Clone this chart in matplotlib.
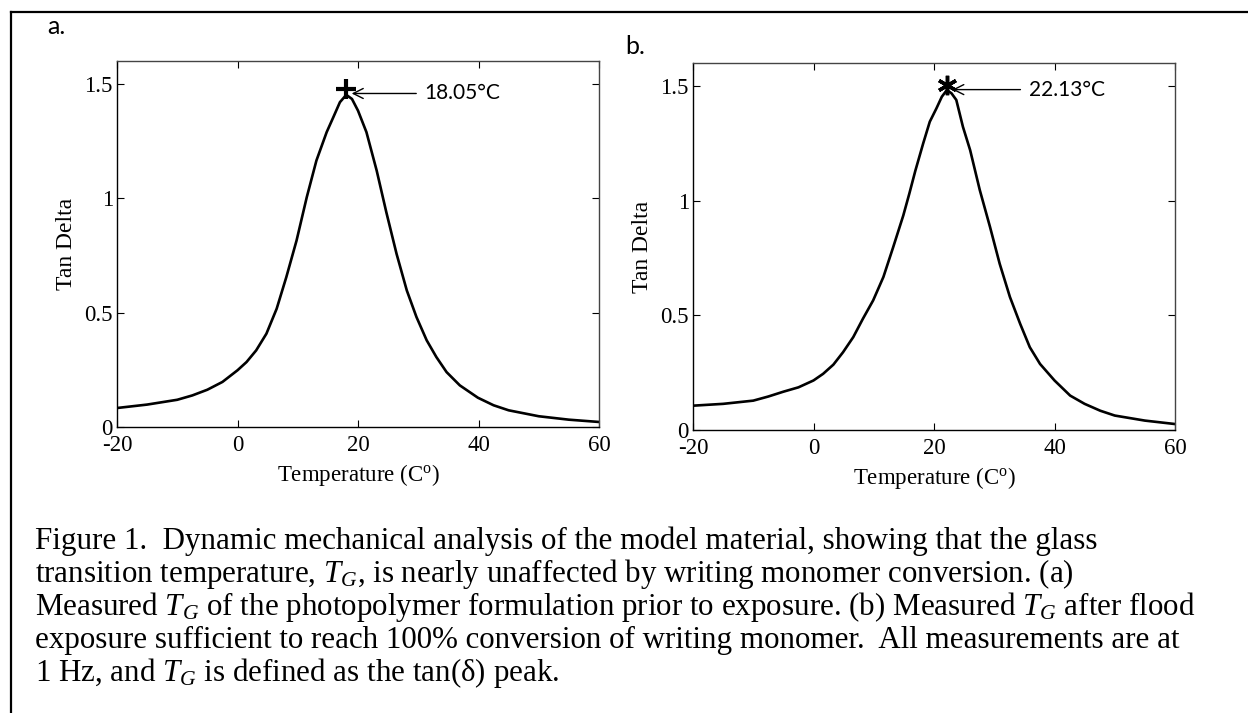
import matplotlib
matplotlib.use("Agg")
import matplotlib.pyplot as plt
from matplotlib.lines import Line2D

plt.rcParams['mathtext.fontset'] = 'custom'
plt.rcParams['mathtext.rm'] = 'Liberation Serif'
plt.rcParams['mathtext.it'] = 'Liberation Serif:italic'
plt.rcParams['axes.unicode_minus'] = False

# ---- data ----
temp_a = [-20, -15, -10, -7.5, -5, -2.5, 0, 1.5, 3.1, 4.8, 6.5, 8.1, 9.8, 11.5, 13.1,
          14.8, 15.9, 17.0, 18.05, 19.0, 20.0, 21.4, 23.1, 24.7, 26.4, 28.1, 29.7,
          31.4, 33.0, 34.7, 36.9, 39.9, 42.5, 45, 50, 55, 60]
tan_a = [0.083, 0.098, 0.119, 0.138, 0.163, 0.197, 0.248, 0.284, 0.335, 0.408, 0.517,
         0.655, 0.815, 1.005, 1.165, 1.289, 1.354, 1.42, 1.452, 1.434, 1.383, 1.289,
         1.121, 0.939, 0.757, 0.597, 0.481, 0.379, 0.306, 0.240, 0.182, 0.128, 0.095,
         0.073, 0.047, 0.032, 0.022]
peak_a = (18.05, 1.478)

temp_b = [-20, -15, -10, -7.5, -5, -2.5, 0, 1.6, 3.3, 4.9, 6.6, 8.2, 9.9, 11.6, 13.2,
          14.9, 15.9, 16.9, 18.2, 19.3, 20.4, 21.3, 22.13, 22.9, 23.7, 24.8, 26.0, 27.6,
          29.3, 30.9, 32.6, 34.3, 35.9, 37.6, 40.0, 42.6, 45.0, 47.6, 50, 55, 60]
tan_b = [0.106, 0.114, 0.128, 0.146, 0.167, 0.186, 0.216, 0.245, 0.285, 0.339, 0.405,
         0.485, 0.565, 0.667, 0.795, 0.935, 1.03, 1.13, 1.249, 1.344, 1.402, 1.453, 1.482,
         1.468, 1.439, 1.322, 1.220, 1.046, 0.885, 0.725, 0.58, 0.463, 0.361, 0.288,
         0.216, 0.150, 0.114, 0.084, 0.063, 0.041, 0.026]
peak_b = (22.13, 1.504)

x_ticks = [-20, 0, 20, 40, 60]
y_ticks = [0, 0.5, 1, 1.5]
y_tick_labels = ['0', '0.5', '1', '1.5']
peak_labels = ['18.05°C', '22.13°C']
panel_labels = ['a.', 'b.']

caption_lines = [
    "Figure 1.  Dynamic mechanical analysis of the model material, showing that the glass",
    "transition temperature, $T_G$, is nearly unaffected by writing monomer conversion. (a)",
    "Measured $T_G$ of the photopolymer formulation prior to exposure. (b) Measured $T_G$ after flood",
    "exposure sufficient to reach 100% conversion of writing monomer.  All measurements are at",
    "1 Hz, and $T_G$ is defined as the tan(δ) peak.",
]

W, H = 1248, 713
fig = plt.figure(figsize=(W / 100, H / 100), dpi=100)

serif = 'Liberation Serif'
sans = 'Lato'

def px(x, y):
    return x / W, 1 - y / H

def make_axes(l, t, r, b):
    return fig.add_axes([l / W, 1 - b / H, (r - l) / W, (b - t) / H])

axes = [make_axes(117, 61, 599, 427), make_axes(693, 63, 1175, 430)]
data = [(temp_a, tan_a, peak_a, '+'), (temp_b, tan_b, peak_b, (6, 2, 0))]
text_offsets = [13.0, 13.6]

for i, ax in enumerate(axes):
    t, v, pk, mk = data[i]
    ax.plot(t, v, color='black', lw=1.9)
    ax.plot([pk[0]], [pk[1]], marker=mk, color='black', markersize=14,
            mew=3 if i == 0 else 2.5, linestyle='none')
    ax.set_xlim(-20, 60)
    ax.set_ylim(0, 1.6)
    ax.set_xticks(x_ticks)
    ax.set_yticks(y_ticks)
    ax.set_yticklabels(y_tick_labels)
    ax.tick_params(direction='in', top=True, right=True, length=5, width=0.8,
                   labelsize=16.5)
    ax.tick_params(axis='x', pad=6)
    ax.tick_params(axis='y', pad=3)
    for lab in ax.get_xticklabels() + ax.get_yticklabels():
        lab.set_fontfamily(serif)
    for s in ax.spines.values():
        s.set_linewidth(1.0)
    ax.spines['top'].set_color('#444444')
    ax.spines['right'].set_color('#444444')
    ax.set_ylabel('Tan Delta', fontfamily=serif, fontsize=17, labelpad=5)
    ax.set_xlabel('Temperature (C$^{\\mathrm{o}}$)', fontfamily=serif, fontsize=16.5,
                  labelpad=4)
    ax.annotate(peak_labels[i], xy=(pk[0] + 0.9, pk[1] - 0.02),
                xytext=(pk[0] + text_offsets[i], pk[1] - 0.02), textcoords='data',
                fontfamily=sans, fontsize=15, va='center', ha='left',
                arrowprops=dict(arrowstyle='->', color='black', lw=1.0,
                                shrinkA=4, shrinkB=0, mutation_scale=18))

fig.text(*px(47, 26), panel_labels[0], fontfamily=sans, fontsize=18, va='center', ha='left')
fig.text(*px(625, 47), panel_labels[1], fontfamily=sans, fontsize=18, va='center', ha='left')

baselines = [549, 582, 615, 648, 681]
for line, yb in zip(caption_lines, baselines):
    fig.text(*px(35, yb), line, fontfamily=serif, fontsize=22.3, va='baseline', ha='left')

# outer frame (top and left edges)
fig.add_artist(Line2D([11 / W, 1.0], [1 - 12 / H, 1 - 12 / H], color='black', lw=1.6,
                      transform=fig.transFigure))
fig.add_artist(Line2D([11 / W, 11 / W], [0, 1 - 12 / H], color='black', lw=1.6,
                      transform=fig.transFigure))

fig.savefig('out.png', dpi=100)
